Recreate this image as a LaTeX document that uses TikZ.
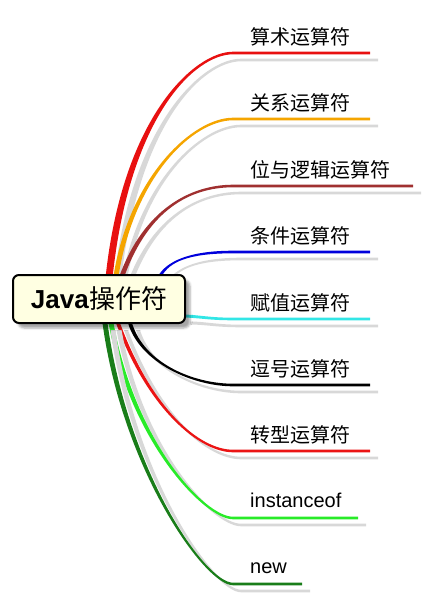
\documentclass[tikz,border=0pt]{standalone}
\usepackage{fontspec}
\setmainfont{Liberation Sans}
\newfontfamily\cjk{Noto Sans CJK SC}
\usetikzlibrary{shadows.blur}

\begin{document}
\begin{tikzpicture}[x=1pt,y=-1pt,
  mmbranch/.style={preaction={fill={rgb, 255:red, 216; green, 216; blue, 216 }, transform canvas={xshift=8pt,yshift=-7pt}}},
  leaflabel/.style={anchor=base west, inner sep=0pt, font=\fontsize{20}{24}\selectfont},
  central/.style={draw=black, line width=2pt, rounded corners=6pt, fill={rgb, 255:red, 255; green, 255; blue, 226 }, minimum width=172pt, minimum height=48pt, inner sep=0pt, font=\fontsize{26}{30}\selectfont, blur shadow={shadow xshift=5pt, shadow yshift=-5pt, shadow opacity=35}}
]
\useasboundingbox (0,0) rectangle (425,598);

%Branch: arithmetic
\coordinate (r1) at (109,278);
\coordinate (b1) at (233,53);
\coordinate (e1) at (370,53);
\fill [mmbranch, fill={rgb, 255:red, 232; green, 16; blue, 16 }] ([xshift=-3.5pt]r1) .. controls +(17,-162) and +(-38,0) .. ([yshift=1.3pt]b1) -- ([yshift=1.3pt]e1) -- ([yshift=-1.3pt]e1) -- ([yshift=-1.3pt]b1) .. controls +(-38,0) and +(17,-162) .. ([xshift=3.5pt]r1) -- cycle ;
%Branch: relational
\coordinate (r2) at (116,276);
\coordinate (b2) at (233,119);
\coordinate (e2) at (370,119);
\fill [mmbranch, fill={rgb, 255:red, 245; green, 165; blue, 0 }] ([xshift=-2.5pt]r2) .. controls +(16,-100) and +(-40,0) .. ([yshift=1.3pt]b2) -- ([yshift=1.3pt]e2) -- ([yshift=-1.3pt]e2) -- ([yshift=-1.3pt]b2) .. controls +(-40,0) and +(16,-100) .. ([xshift=2.5pt]r2) -- cycle ;
%Branch: bitwise and logical
\coordinate (r3) at (122,276);
\coordinate (b3) at (233,186);
\coordinate (e3) at (413,186);
\fill [mmbranch, fill={rgb, 255:red, 160; green, 48; blue, 48 }] ([xshift=-2.5pt]r3) .. controls +(24,-66) and +(-43,0) .. ([yshift=1.3pt]b3) -- ([yshift=1.3pt]e3) -- ([yshift=-1.3pt]e3) -- ([yshift=-1.3pt]b3) .. controls +(-43,0) and +(24,-66) .. ([xshift=2.5pt]r3) -- cycle ;
%Branch: conditional
\coordinate (r4) at (160,276);
\coordinate (b4) at (233,252);
\coordinate (e4) at (370,252);
\fill [mmbranch, fill={rgb, 255:red, 0; green, 0; blue, 220 }] ([xshift=-1.8pt]r4) .. controls +(8,-14) and +(-45,0) .. ([yshift=1.3pt]b4) -- ([yshift=1.3pt]e4) -- ([yshift=-1.3pt]e4) -- ([yshift=-1.3pt]b4) .. controls +(-45,0) and +(8,-14) .. ([xshift=1.8pt]r4) -- cycle ;
%Branch: assignment
\coordinate (r5) at (182,316);
\coordinate (b5) at (233,319);
\coordinate (e5) at (370,319);
\fill [mmbranch, fill={rgb, 255:red, 50; green, 230; blue, 230 }] ([yshift=1.5pt]r5) .. controls +(15,0) and +(-25,0) .. ([yshift=1.3pt]b5) -- ([yshift=1.3pt]e5) -- ([yshift=-1.3pt]e5) -- ([yshift=-1.3pt]b5) .. controls +(-25,0) and +(15,0) .. ([yshift=-1.5pt]r5) -- cycle ;
%Branch: comma
\coordinate (r6) at (130,323);
\coordinate (b6) at (233,385);
\coordinate (e6) at (370,385);
\fill [mmbranch, fill={rgb, 255:red, 0; green, 0; blue, 0 }] ([xshift=-2pt]r6) .. controls +(12,40) and +(-40,0) .. ([yshift=-1.3pt]b6) -- ([yshift=-1.3pt]e6) -- ([yshift=1.3pt]e6) -- ([yshift=1.3pt]b6) .. controls +(-40,0) and +(12,40) .. ([xshift=2pt]r6) -- cycle ;
%Branch: cast
\coordinate (r7) at (118,323);
\coordinate (b7) at (233,451);
\coordinate (e7) at (370,451);
\fill [mmbranch, fill={rgb, 255:red, 235; green, 20; blue, 20 }] ([xshift=-2pt]r7) .. controls +(32,87) and +(-33,0) .. ([yshift=-1.3pt]b7) -- ([yshift=-1.3pt]e7) -- ([yshift=1.3pt]e7) -- ([yshift=1.3pt]b7) .. controls +(-33,0) and +(32,87) .. ([xshift=2pt]r7) -- cycle ;
%Branch: instanceof
\coordinate (r8) at (111,323);
\coordinate (b8) at (233,518);
\coordinate (e8) at (358,518);
\fill [mmbranch, fill={rgb, 255:red, 40; green, 235; blue, 40 }] ([xshift=-2.5pt]r8) .. controls +(22,120) and +(-28,0) .. ([yshift=-1.3pt]b8) -- ([yshift=-1.3pt]e8) -- ([yshift=1.3pt]e8) -- ([yshift=1.3pt]b8) .. controls +(-28,0) and +(22,120) .. ([xshift=2.5pt]r8) -- cycle ;
%Branch: new
\coordinate (r9) at (105,323);
\coordinate (b9) at (233,584);
\coordinate (e9) at (302,584);
\fill [mmbranch, fill={rgb, 255:red, 25; green, 125; blue, 25 }] ([xshift=-2.5pt]r9) .. controls +(20,147) and +(-28,0) .. ([yshift=-1.3pt]b9) -- ([yshift=-1.3pt]e9) -- ([yshift=1.3pt]e9) -- ([yshift=1.3pt]b9) .. controls +(-28,0) and +(20,147) .. ([xshift=2.5pt]r9) -- cycle ;

% Central Node
\node [central] (java) at (99,299) {\textbf{Java}\cjk 操作符};

% Text Nodes
\node [leaflabel] (arith) at ([xshift=17pt,yshift=9pt]b1) {\cjk 算术运算符};
\node [leaflabel] (rel) at ([xshift=17pt,yshift=9pt]b2) {\cjk 关系运算符};
\node [leaflabel] (bitlogic) at ([xshift=17pt,yshift=9pt]b3) {\cjk 位与逻辑运算符};
\node [leaflabel] (cond) at ([xshift=17pt,yshift=9pt]b4) {\cjk 条件运算符};
\node [leaflabel] (assign) at ([xshift=17pt,yshift=9pt]b5) {\cjk 赋值运算符};
\node [leaflabel] (comma) at ([xshift=17pt,yshift=9pt]b6) {\cjk 逗号运算符};
\node [leaflabel] (cast) at ([xshift=17pt,yshift=9pt]b7) {\cjk 转型运算符};
\node [leaflabel] (inst) at ([xshift=17pt,yshift=11pt]b8) {instanceof};
\node [leaflabel] (newop) at ([xshift=17pt,yshift=11pt]b9) {new};

\end{tikzpicture}
\end{document}
